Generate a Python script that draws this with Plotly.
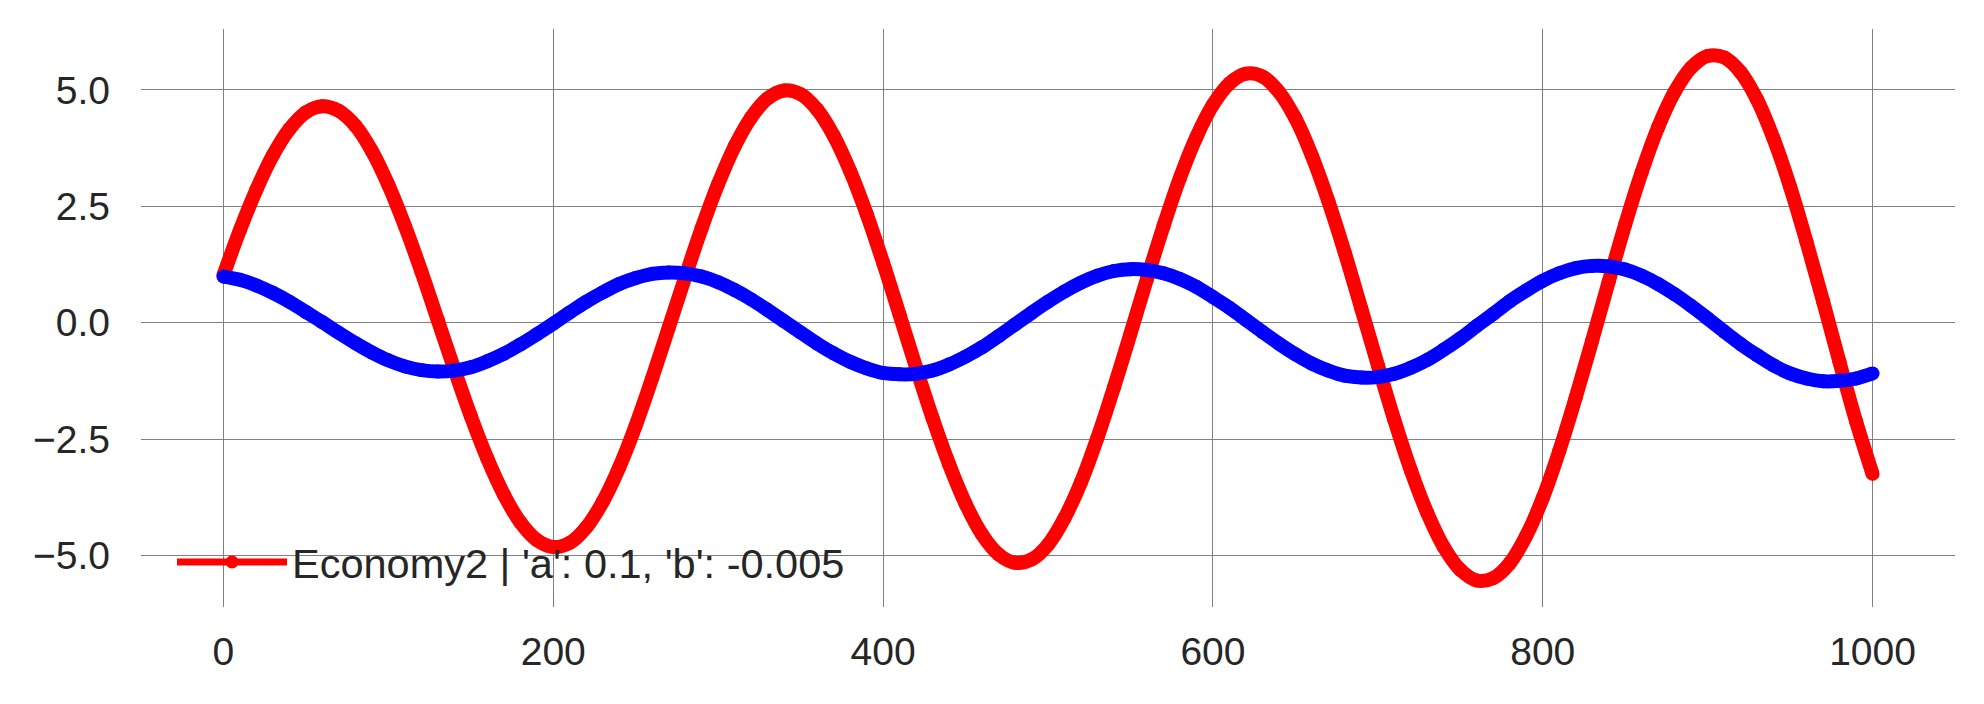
import plotly.graph_objects as go

# x positions (every 10 units, 0..1000)
x_vals = list(range(0, 1001, 10))

# Economy2 | 'a': 0.1, 'b': -0.005  (red)
red_vals = [
    1.02, 1.99, 2.86, 3.60, 4.16, 4.52, 4.65, 4.55, 4.23, 3.69,
    2.96, 2.08, 1.10, 0.05, -1.00, -2.01, -2.92, -3.69, -4.29, -4.67,
    -4.82, -4.73, -4.40, -3.85, -3.11, -2.21, -1.19, -0.11, 0.98, 2.03,
    2.98, 3.79, 4.41, 4.82, 4.99, 4.91, 4.58, 4.02, 3.26, 2.34,
    1.29, 0.17, -0.96, -2.05, -3.04, -3.89, -4.55, -4.98, -5.16, -5.09,
    -4.77, -4.20, -3.43, -2.47, -1.39, -0.24, 0.94, 2.07, 3.11, 3.99,
    4.68, 5.14, 5.35, 5.29, 4.96, 4.39, 3.59, 2.61, 1.50, 0.30,
    -0.91, -2.09, -3.17, -4.09, -4.82, -5.31, -5.54, -5.49, -5.17, -4.58,
    -3.77, -2.76, -1.61, -0.38, 0.88, 2.11, 3.23, 4.20, 4.96, 5.48,
    5.73, 5.70, 5.38, 4.79, 3.95, 2.92, 1.73, 0.46, -0.85, -2.12,
    -3.25,
]

# second series (blue, not in legend)
blue_vals = [
    0.99, 0.92, 0.80, 0.64, 0.45, 0.23, 0.01, -0.22, -0.44, -0.64,
    -0.81, -0.94, -1.02, -1.05, -1.03, -0.96, -0.83, -0.67, -0.47, -0.25,
    -0.02, 0.22, 0.45, 0.65, 0.83, 0.96, 1.05, 1.08, 1.06, 0.99,
    0.87, 0.70, 0.50, 0.27, 0.03, -0.21, -0.45, -0.66, -0.84, -0.98,
    -1.08, -1.11, -1.10, -1.03, -0.90, -0.73, -0.53, -0.29, -0.04, 0.21,
    0.45, 0.67, 0.86, 1.01, 1.11, 1.15, 1.13, 1.06, 0.94, 0.77,
    0.55, 0.32, 0.06, -0.20, -0.45, -0.68, -0.88, -1.03, -1.14, -1.18,
    -1.17, -1.10, -0.97, -0.80, -0.58, -0.34, -0.07, 0.19, 0.46, 0.69,
    0.90, 1.06, 1.17, 1.22, 1.21, 1.14, 1.01, 0.83, 0.61, 0.36,
    0.09, -0.19, -0.46, -0.70, -0.92, -1.09, -1.20, -1.26, -1.25, -1.20,
    -1.09,
]

x_ticks = [0, 200, 400, 600, 800, 1000]
y_ticks = [-5.0, -2.5, 0.0, 2.5, 5.0]
y_tick_text = ["\u22125.0", "\u22122.5", "0.0", "2.5", "5.0"]

red_label = "Economy2 | 'a': 0.1, 'b': -0.005"

FONT = "Liberation Sans, Arial, sans-serif"
TXT = "#262626"
GRID = "#808080"
LW = 14

fig = go.Figure()
# main red series (legend entry drawn by the legend-only twin below)
fig.add_trace(go.Scatter(
    x=x_vals, y=red_vals, name=red_label, legendgroup="econ2",
    mode="lines+markers",
    line=dict(color="#ff0000", width=LW, shape="spline"),
    marker=dict(color="#ff0000", size=LW),
    showlegend=False,
))
# legend symbol for the red series (thin line + dot, as in the reference legend)
fig.add_trace(go.Scatter(
    x=[None], y=[None], name=red_label, legendgroup="econ2",
    mode="lines+markers",
    line=dict(color="#ff0000", width=7),
    marker=dict(color="#ff0000", size=13),
    showlegend=True, hoverinfo="skip",
))
fig.add_trace(go.Scatter(
    x=x_vals, y=blue_vals, name="",
    mode="lines+markers",
    line=dict(color="#0000ff", width=LW, shape="spline"),
    marker=dict(color="#0000ff", size=LW),
    showlegend=False,
))

fig.update_layout(
    width=1976, height=696,
    margin=dict(l=133, r=29, t=21, b=97),
    paper_bgcolor="white", plot_bgcolor="white",
    font=dict(family=FONT, size=39, color=TXT),
    showlegend=True,
    legend=dict(
        x=0.0171, y=0.078, xanchor="left", yanchor="middle",
        bgcolor="rgba(0,0,0,0)", borderwidth=0,
        font=dict(family=FONT, size=41.5, color=TXT),
        itemwidth=110,
    ),
    xaxis=dict(
        range=[-50, 1050], tickmode="array", tickvals=x_ticks,
        showgrid=True, gridcolor=GRID, gridwidth=1.2,
        zeroline=False, showline=False, ticks="",
        ticklabelstandoff=18,
        tickfont=dict(family=FONT, size=39, color=TXT),
    ),
    yaxis=dict(
        range=[-6.11, 6.31], tickmode="array", tickvals=y_ticks, ticktext=y_tick_text,
        showgrid=True, gridcolor=GRID, gridwidth=1.2,
        zeroline=False, showline=False, ticks="",
        ticklabelstandoff=30,
        tickfont=dict(family=FONT, size=39, color=TXT),
    ),
)

fig.write_html("out.html")
